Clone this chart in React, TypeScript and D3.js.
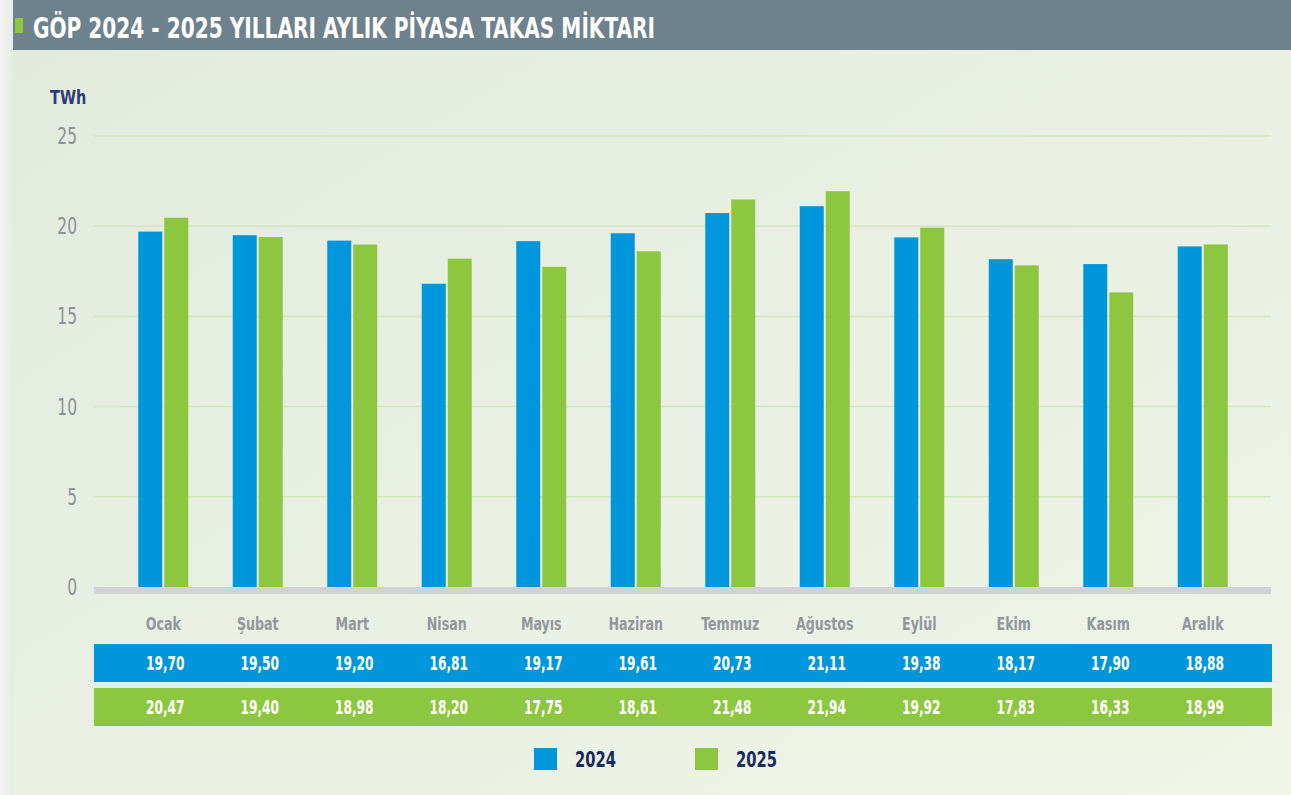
import React from "react";
import * as d3 from "d3";

const months = ["Ocak", "Şubat", "Mart", "Nisan", "Mayıs", "Haziran", "Temmuz", "Ağustos", "Eylül", "Ekim", "Kasım", "Aralık"];
const values2024 = [19.70, 19.50, 19.20, 16.81, 19.17, 19.61, 20.73, 21.11, 19.38, 18.17, 17.90, 18.88];
const values2025 = [20.47, 19.40, 18.98, 18.20, 17.75, 18.61, 21.48, 21.94, 19.92, 17.83, 16.33, 18.99];
const yTicks = [0, 5, 10, 15, 20, 25];
const seriesNames = ["2024", "2025"];
const title = "GÖP 2024 - 2025 YILLARI AYLIK PİYASA TAKAS MİKTARI";

const BLUE = "#0096db";
const GREEN = "#8dc63f";
const FONT = "'DejaVu Sans Condensed', 'Roboto', sans-serif";

function CText(props: {
  x: number; y: number; sx: number; size: number; weight?: number; fill: string; anchor?: string; children: React.ReactNode;
}) {
  const { x, y, sx, size, weight = 400, fill, anchor = "start", children } = props;
  return (
    <text
      transform={`translate(${x},${y}) scale(${sx},1)`}
      textAnchor={anchor as any}
      fill={fill}
      fontFamily={FONT}
      fontWeight={weight}
      fontSize={size}
    >
      {children}
    </text>
  );
}

export default function App() {
  const W = 1291, H = 795;
  const x = d3.scaleBand<string>().domain(months).range([116, 1250]);
  const y = d3.scaleLinear().domain([0, 25]).range([587, 136]);
  const barW = 24, gap = 2;
  const fmt = (v: number) => v.toFixed(2).replace(".", ",");
  const series = [values2024, values2025];
  const colors = [BLUE, GREEN];
  const cx = (m: string) => (x(m) as number) + x.bandwidth() / 2;

  return (
    <svg width={W} height={H} style={{ position: "absolute", left: 0, top: 0 }}>
      <defs>
        <linearGradient id="bg" x1="0" y1="0" x2="1" y2="1">
          <stop offset="0" stopColor="#e2eade" />
          <stop offset="0.5" stopColor="#e9f0e3" />
          <stop offset="1" stopColor="#eef4e8" />
        </linearGradient>
        <linearGradient id="edge" x1="0" y1="0" x2="1" y2="0">
          <stop offset="0" stopColor="#f4f5f4" />
          <stop offset="1" stopColor="#e6ebe4" />
        </linearGradient>
      </defs>
      <rect x={0} y={0} width={W} height={H} fill="url(#bg)" />
      <rect x={0} y={0} width={13} height={H} fill="url(#edge)" />
      {/* title bar */}
      <rect x={13} y={0} width={W - 13} height={50} fill="#6e828d" />
      <rect x={15} y={18} width={8} height={15} fill={GREEN} />
      <text x={33} y={38} fill="#ffffff" fontFamily={FONT} fontWeight={700} fontSize={28} textLength={622} lengthAdjust="spacingAndGlyphs">
        {title}
      </text>
      {/* unit */}
      <CText x={50} y={104} sx={0.85} size={19} weight={700} fill="#2d3c74">TWh</CText>
      {/* grid */}
      {yTicks.filter((t) => t > 0).map((t) => (
        <line key={t} x1={94} x2={1271} y1={y(t)} y2={y(t)} stroke="#d3e6bd" strokeWidth={1.5} />
      ))}
      {yTicks.map((t) => (
        <CText key={"l" + t} x={77} y={y(t) + 8} sx={0.75} size={23} anchor="end" fill="#8c9196">
          {t}
        </CText>
      ))}
      {/* bars */}
      {series.map((vals, si) =>
        vals.map((v, i) => {
          const c = cx(months[i]);
          const bx = si === 0 ? c - gap / 2 - barW : c + gap / 2;
          return <rect key={si + "-" + i} x={bx} y={y(v)} width={barW} height={y(0) - y(v)} fill={colors[si]} />;
        })
      )}
      {/* baseline */}
      <rect x={94} y={587} width={1177} height={7} fill="#d0d2d6" />
      {/* month labels */}
      {months.map((m) => (
        <CText key={m} x={cx(m)} y={630} sx={0.78} size={18} weight={700} anchor="middle" fill="#93969a">
          {m}
        </CText>
      ))}
      {/* table rows */}
      {series.map((vals, si) => {
        const ry = si === 0 ? 644 : 688;
        return (
          <g key={"row" + si}>
            <rect x={94} y={ry} width={1178} height={38} fill={colors[si]} />
            {vals.map((v, i) => (
              <CText key={i} x={cx(months[i]) + 2} y={ry + 26} sx={0.68} size={20} weight={700} anchor="middle" fill="#ffffff">
                {fmt(v)}
              </CText>
            ))}
          </g>
        );
      })}
      {/* legend */}
      {seriesNames.map((s, si) => {
        const lx = si === 0 ? 534 : 695;
        return (
          <g key={s}>
            <rect x={lx} y={748} width={23} height={22} fill={colors[si]} />
            <CText x={lx + 41} y={767} sx={0.78} size={21} weight={700} fill="#1b2a5c">{s}</CText>
          </g>
        );
      })}
    </svg>
  );
}
